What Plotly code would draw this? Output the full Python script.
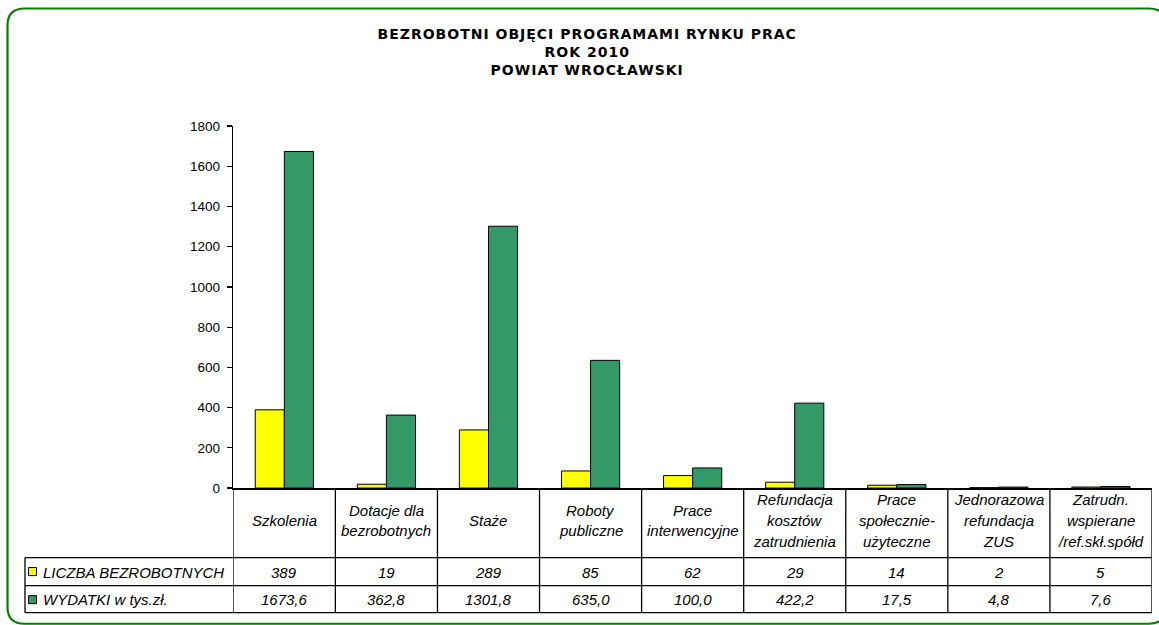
import plotly.graph_objects as go

W, HF = 1159, 645
OFF, SC = 7.0, 0.974  # measured vertical mapping of the capture

categories = ["Szkolenia", "Dotacje dla bezrobotnych", "Staże", "Roboty publiczne",
              "Prace interwencyjne", "Refundacja kosztów zatrudnienia",
              "Prace społecznie-użyteczne", "Jednorazowa refundacja ZUS",
              "Zatrudn. wspierane /ref.skł.spółd"]
category_lines = [["Szkolenia"], ["Dotacje dla", "bezrobotnych"], ["Staże"],
                  ["Roboty", "publiczne"], ["Prace", "interwencyjne"],
                  ["Refundacja", "kosztów", "zatrudnienia"],
                  ["Prace", "społecznie-", "użyteczne"],
                  ["Jednorazowa", "refundacja", "ZUS"],
                  ["Zatrudn.", "wspierane", "/ref.skł.spółd"]]
liczba = [389, 19, 289, 85, 62, 29, 14, 2, 5]
wydatki = [1673.6, 362.8, 1301.8, 635.0, 100.0, 422.2, 17.5, 4.8, 7.6]
liczba_text = ["389", "19", "289", "85", "62", "29", "14", "2", "5"]
wydatki_text = ["1673,6", "362,8", "1301,8", "635,0", "100,0", "422,2", "17,5", "4,8", "7,6"]
series_names = ["LICZBA BEZROBOTNYCH", "WYDATKI w tys.zł."]
y_ticks = [0, 200, 400, 600, 800, 1000, 1200, 1400, 1600, 1800]
title_lines = ["BEZROBOTNI OBJĘCI PROGRAMAMI RYNKU PRAC", "ROK 2010", "POWIAT WROCŁAWSKI"]

YELLOW = "#FFFF00"
GREEN = "#339966"


def px(x):
    return x / W


def py(y):
    return 1 - ((y - OFF) / SC) / HF


x_idx = list(range(len(categories)))

fig = go.Figure()
fig.add_trace(go.Bar(x=x_idx, y=liczba, name=series_names[0],
                     marker=dict(color=YELLOW, line=dict(color="black", width=1))))
fig.add_trace(go.Bar(x=x_idx, y=wydatki, name=series_names[1],
                     marker=dict(color=GREEN, line=dict(color="black", width=1))))

AX_L, AX_R = 233.3, 1152
Y0, Y1 = 486.7, 125.7
TBL_L = 25
ROW1, ROW2, ROW3 = 556, 584, 611

fig.update_layout(
    width=W, height=HF, margin=dict(l=0, r=0, t=0, b=0),
    paper_bgcolor="white", plot_bgcolor="white",
    showlegend=False, barmode="group", bargap=0.43, bargroupgap=0,
    font=dict(family="Liberation Sans, Arial", color="black"),
    xaxis=dict(domain=[px(AX_L), px(AX_R)], range=[-0.5, len(categories) - 0.5],
               showticklabels=False, ticks="", showgrid=False, zeroline=False,
               showline=True, linecolor="black", linewidth=1.5, fixedrange=True),
    yaxis=dict(domain=[py(Y0), py(Y1)], range=[0, 1800], tickvals=y_ticks,
               ticks="outside", ticklen=5, tickwidth=1.2, tickcolor="black",
               showgrid=False, zeroline=False, showline=True, linecolor="black",
               linewidth=1.5, tickfont=dict(size=13.5, family="Liberation Sans, Arial"),
               ticklabelstandoff=4, fixedrange=True),
)

shapes = []
LINE = dict(color="black", width=1.3)
for yy in (ROW1, ROW2, ROW3):
    shapes.append(dict(type="line", xref="paper", yref="paper",
                       x0=px(TBL_L), x1=px(AX_R), y0=py(yy), y1=py(yy), line=LINE))
for i in range(len(categories) + 1):
    shapes.append(dict(type="line", xref="x", yref="paper",
                       x0=i - 0.5, x1=i - 0.5, y0=py(Y0), y1=py(ROW3), line=LINE))
shapes.append(dict(type="line", xref="paper", yref="paper",
                   x0=px(TBL_L), x1=px(TBL_L), y0=py(ROW1), y1=py(ROW3), line=LINE))
for (c, ya, yb) in ((YELLOW, 566, 574), (GREEN, 594, 602)):
    shapes.append(dict(type="rect", xref="paper", yref="paper",
                       x0=px(28.5), x1=px(36.5), y0=py(yb), y1=py(ya),
                       fillcolor=c, line=dict(color="black", width=1)))
x0, y0, x1, y1, r = 7.5, 8.5, 1166, 622, 17
path = (f"M {x0+r},{y0} L {x1-r},{y0} Q {x1},{y0} {x1},{y0+r} "
        f"L {x1},{y1-r} Q {x1},{y1} {x1-r},{y1} L {x0+r},{y1} "
        f"Q {x0},{y1} {x0},{y1-r} L {x0},{y0+r} Q {x0},{y0} {x0+r},{y0} Z")


def conv_path(p):
    out = []
    for tok in p.split(" "):
        if "," in tok:
            a, b = tok.split(",")
            out.append(f"{px(float(a)):.5f},{py(float(b)):.5f}")
        else:
            out.append(tok)
    return " ".join(out)


shapes.append(dict(type="path", xref="paper", yref="paper", path=conv_path(path),
                   line=dict(color="#008000", width=2.2)))
fig.update_layout(shapes=shapes)

ann = []
ann.append(dict(text="<br>".join(title_lines), x=px(587), y=py(52), xref="paper", yref="paper",
                showarrow=False, xanchor="center", yanchor="middle", align="center",
                font=dict(family="DejaVu Sans", size=14, color="black", weight="bold")))
IT = dict(family="Liberation Sans, Arial", size=15, color="black", style="italic")
HDR_C = 519
SP = 20.5
for i, lines in enumerate(category_lines):
    n = len(lines)
    for k, t in enumerate(lines):
        yy = HDR_C + (k - (n - 1) / 2) * SP
        ann.append(dict(text=t, x=i, y=py(yy), xref="x", yref="paper", showarrow=False,
                        xanchor="center", yanchor="middle", font=IT))
for i in x_idx:
    ann.append(dict(text=liczba_text[i], x=i, y=py(570.5), xref="x", yref="paper",
                    showarrow=False, xanchor="center", yanchor="middle", font=IT))
    ann.append(dict(text=wydatki_text[i], x=i, y=py(598), xref="x", yref="paper",
                    showarrow=False, xanchor="center", yanchor="middle", font=IT))
for nm, yy in zip(series_names, (570.5, 598)):
    ann.append(dict(text=nm, x=px(41), y=py(yy), xref="paper", yref="paper",
                    showarrow=False, xanchor="left", yanchor="middle", font=IT))
fig.update_layout(annotations=ann)

post = ("var d=document.getElementById('{plot_id}');"
        "d.style.position='fixed';d.style.top='0px';d.style.left='0px';"
        "document.body.style.margin='0';document.body.style.overflow='hidden';"
        "document.documentElement.style.overflow='hidden';"
        "var ts=d.querySelectorAll('text.annotation-text');"
        "if(ts.length)ts[0].style.letterSpacing='1px';")

fig.write_html("out.html", config=dict(displayModeBar=False, staticPlot=True),
               post_script=post)
